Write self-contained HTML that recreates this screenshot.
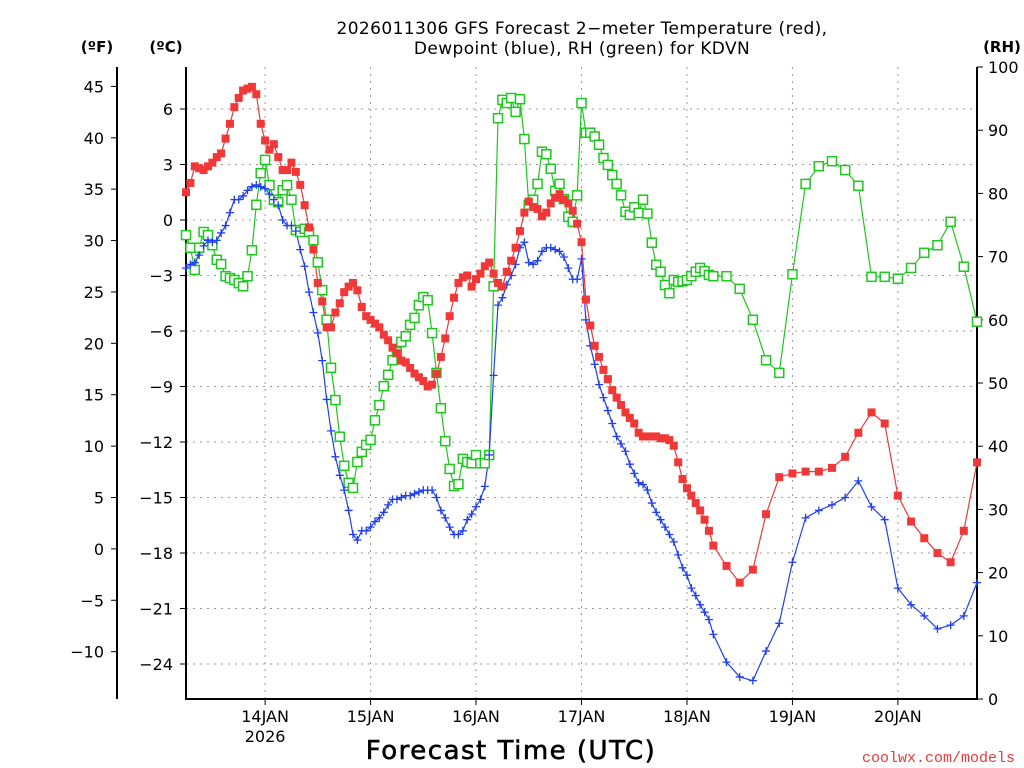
<!DOCTYPE html>
<html><head><meta charset="utf-8"><style>
body{margin:0;background:#fff;}
svg{display:block;font-family:"DejaVu Sans","Liberation Sans",sans-serif;}
</style></head><body>
<svg id="chart" width="1024" height="768" viewBox="0 0 1024 768">
<text x="582" y="34" font-size="17" text-anchor="middle" letter-spacing="0.4">2026011306 GFS Forecast 2−meter Temperature (red),</text>
<text x="582" y="54" font-size="17" text-anchor="middle" letter-spacing="0.4">Dewpoint (blue), RH (green) for KDVN</text>
<text x="97" y="52" font-size="15" font-weight="bold" text-anchor="middle">(ºF)</text>
<text x="166" y="52" font-size="15" font-weight="bold" text-anchor="middle">(ºC)</text>
<text x="1002" y="52" font-size="15" font-weight="bold" text-anchor="middle">(RH)</text>
<text x="511" y="759" font-size="26" letter-spacing="1.5" stroke="#000" stroke-width="0.6" text-anchor="middle">Forecast Time (UTC)</text>
<text x="1015" y="762" font-size="15" fill="#e83a3a" text-anchor="end" font-family="Liberation Mono, monospace">coolwx.com/models</text>
<g id="grid"></g><g id="axes"></g><g id="series"></g>
</svg>
<script>
const hours=[];for(let h=0;h<=120;h++)hours.push(h);for(let h=123;h<=180;h+=3)hours.push(h);
const tempC=[1.5,2.0,2.9,2.8,2.7,2.9,3.1,3.4,3.6,4.4,5.2,6.1,6.6,7.0,7.1,7.2,6.8,5.2,4.3,3.8,4.1,3.4,2.7,2.7,3.1,2.6,1.9,0.8,-0.4,-1.6,-3.4,-4.4,-5.8,-5.8,-5.0,-4.5,-3.9,-3.6,-3.4,-3.8,-4.7,-5.2,-5.4,-5.6,-5.8,-6.2,-6.5,-6.9,-7.2,-7.6,-7.7,-8.0,-8.3,-8.5,-8.7,-9.0,-8.9,-8.3,-7.4,-6.4,-5.2,-4.2,-3.4,-3.1,-3.0,-3.6,-3.2,-2.9,-2.5,-2.3,-2.9,-3.4,-3.6,-2.8,-2.2,-1.5,-0.6,0.4,1.0,0.7,0.6,0.2,0.4,0.9,1.2,1.4,1.1,0.9,0.5,-0.2,-1.2,-4.3,-5.7,-6.8,-7.4,-8.1,-8.6,-9.2,-9.6,-10.0,-10.4,-10.7,-11.0,-11.5,-11.7,-11.7,-11.7,-11.7,-11.8,-11.8,-11.9,-12.2,-13.1,-14.0,-14.5,-14.9,-15.3,-15.7,-16.2,-16.8,-17.6,
-18.7,-19.6,-18.9,-15.9,-13.9,-13.7,-13.6,-13.6,-13.4,-12.8,-11.5,-10.4,-11.0,-14.9,-16.3,-17.2,-18.0,-18.5,-16.8,-13.1];
const dewC=[-2.6,-2.4,-2.3,-1.9,-1.4,-1.1,-1.2,-1.1,-0.7,-0.3,0.4,1.1,1.1,1.3,1.6,1.8,1.9,1.8,1.7,1.4,1.1,0.8,0,-0.3,-0.3,-0.6,-1.6,-2.5,-3.9,-5.0,-6.1,-7.6,-9.7,-11.4,-12.8,-13.8,-14.6,-15.7,-17.0,-17.3,-16.8,-16.8,-16.6,-16.3,-16.1,-15.8,-15.4,-15.1,-15.1,-15.0,-14.9,-14.9,-14.8,-14.7,-14.6,-14.6,-14.6,-15.0,-15.7,-16.1,-16.6,-17.0,-17.0,-16.8,-16.2,-15.9,-15.5,-15.1,-14.4,-12.7,-8.4,-4.6,-4.2,-3.5,-3.0,-2.4,-1.5,-1.2,-2.3,-2.4,-2.2,-1.7,-1.5,-1.5,-1.6,-1.7,-2.0,-2.6,-3.2,-3.2,-2.1,-5.4,-6.8,-7.8,-8.9,-9.6,-10.3,-11.0,-11.7,-12.1,-12.5,-13.2,-13.7,-14.2,-14.3,-14.6,-15.3,-15.8,-16.2,-16.6,-17.0,-17.4,-18.1,-18.8,-19.2,-19.9,-20.3,-20.8,-21.2,-21.6,-22.4,
-23.9,-24.7,-24.9,-23.3,-21.8,-18.5,-16.1,-15.7,-15.4,-15.0,-14.1,-15.5,-16.2,-19.9,-20.8,-21.4,-22.1,-21.9,-21.4,-19.6];
const rhPct=[73.4,71.4,67.9,71.4,73.9,73.4,71.8,69.5,68.8,66.9,66.6,66.3,65.8,65.3,66.9,71.0,78.2,83.2,85.3,81.3,79.0,78.6,80.5,81.3,79.0,74.2,73.9,74.4,73.9,72.6,69.1,64.7,60.0,52.4,47.3,41.5,36.9,34.2,33.4,37.5,39.1,40.2,41.0,44.1,46.5,49.5,51.3,53.6,54.9,56.5,57.4,59.2,60.3,62.3,63.6,63.1,57.9,51.6,46.0,40.8,36.4,33.7,34.0,38.0,37.5,37.3,38.6,37.3,37.3,38.6,65.3,91.9,94.8,94.3,95.1,92.9,94.9,88.6,78.2,79.0,81.5,86.6,86.2,83.9,80.4,81.5,79.1,76.3,75.5,79.7,94.3,89.6,89.6,89.0,87.7,85.6,84.5,82.9,81.5,79.7,77.1,76.6,77.8,76.9,79.0,76.8,72.2,68.7,67.6,65.5,64.2,66.3,66.0,66.1,66.3,66.9,67.6,68.2,67.7,67.1,66.9,
66.9,64.9,60.0,53.6,51.6,67.2,81.5,84.3,85.1,83.7,81.2,66.8,66.8,66.5,68.2,70.6,71.8,75.5,68.4,59.7];
const dayLabels=["14JAN","15JAN","16JAN","17JAN","18JAN","19JAN","20JAN"];
const dayHours=[18,42,66,90,114,138,162];
const cTicks=[6,3,0,-3,-6,-9,-12,-15,-18,-21,-24];
const fTicks=[45,40,35,30,25,20,15,10,5,0,-5,-10];
const rhTicks=[0,10,20,30,40,50,60,70,80,90,100];

const L=186,R=977,T=67,B=699;
const xs=h=>L+h*(R-L)/180;
const yC=c=>220-c*18.5;
const yF=f=>yC((f-32)/1.8);
const yRH=r=>B-r*(B-T)/100;
const NS="http://www.w3.org/2000/svg";
function mk(tag,attrs,parent){const e=document.createElementNS(NS,tag);for(const k in attrs)e.setAttribute(k,attrs[k]);parent.appendChild(e);return e;}
const grid=document.getElementById('grid'),axes=document.getElementById('axes'),ser=document.getElementById('series');

cTicks.forEach(c=>{
 const l=mk('line',{x1:L,x2:R,y1:yC(c),y2:yC(c),stroke:'#999','stroke-dasharray':'2,5'},grid);
 
 
 const t=mk('line',{x1:L-6,x2:L,y1:yC(c),y2:yC(c),stroke:'#000'},axes);
 
 
 const tx=mk('text',{x:173,y:yC(c)+6,'font-size':16,'text-anchor':'end'},axes);tx.textContent=String(c).replace('-','−');
 
 
});
fTicks.forEach(f=>{
 const t=mk('line',{x1:111,x2:117,y1:yF(f),y2:yF(f),stroke:'#000'},axes);
 
 
 const tx=mk('text',{x:104,y:yF(f)+6,'font-size':16,'text-anchor':'end'},axes);tx.textContent=String(f).replace('-','−');
 
 
});
rhTicks.forEach(r=>{
 const t=mk('line',{x1:R,x2:R+6,y1:yRH(r),y2:yRH(r),stroke:'#000'},axes);
 
 
 const tx=mk('text',{x:988,y:yRH(r)+6,'font-size':16},axes);tx.textContent=r;
 
 
});
dayHours.forEach((h,i)=>{
 const l=mk('line',{x1:xs(h),x2:xs(h),y1:T,y2:B,stroke:'#999','stroke-dasharray':'2,5'},grid);
 
 
 const t=mk('line',{x1:xs(h),x2:xs(h),y1:B,y2:B+6,stroke:'#000'},axes);
 
 
 const tx=mk('text',{x:xs(h),y:722,'font-size':16,'text-anchor':'middle'},axes);tx.textContent=dayLabels[i];
 
 
});
const yr=mk('text',{x:xs(dayHours[0]),y:742,'font-size':16,'text-anchor':'middle'},axes);yr.textContent='2026';


const frame=mk('path',{d:`M${L},${T}V${B}H${R}V${T}`,fill:'none',stroke:'#000','stroke-width':2},axes);


const fax=mk('line',{x1:117,x2:117,y1:T,y2:B,stroke:'#000','stroke-width':2},axes);



function line(vals,yf,color,name){
 const p=mk('polyline',{points:vals.map((v,i)=>xs(hours[i])+','+yf(v)).join(' '),fill:'none',stroke:color,'stroke-width':1.2},ser);
 
 
}
line(rhPct,yRH,'#1ec81e','rh-line');
line(dewC,yC,'#2040f0','dewpoint-line');
line(tempC,yC,'#f03838','temperature-line');
rhPct.forEach((v,i)=>{
 const r=mk('rect',{x:xs(hours[i])-4.5,y:yRH(v)-4.5,width:9,height:9,fill:'#fff',stroke:'#1ec81e','stroke-width':1.5},ser);
 
 
});
dewC.forEach((v,i)=>{
 const x=xs(hours[i]),y=yC(v);
 const p=mk('path',{d:`M${x-4},${y}H${x+4}M${x},${y-4}V${y+4}`,stroke:'#2040f0','stroke-width':1.3},ser);
 
 
});
tempC.forEach((v,i)=>{
 const r=mk('rect',{x:xs(hours[i])-4,y:yC(v)-4,width:8,height:8,fill:'#f03838'},ser);
 
 
});
</script>
</body></html>
